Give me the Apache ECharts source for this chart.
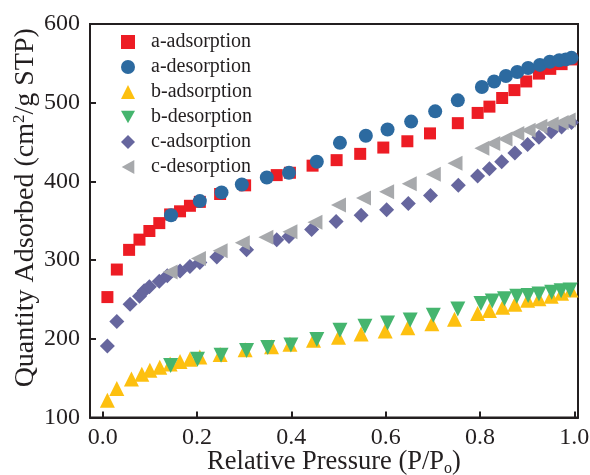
<!DOCTYPE html>
<html>
<head>
<meta charset="utf-8">
<script src="https://cdn.jsdelivr.net/npm/echarts@6/dist/echarts.min.js"></script>
<style>html,body{margin:0;padding:0;background:#fff;}#c{width:590px;height:475px;}</style>
</head>
<body>
<div id="c"></div>
<script>
const xTicks = [0, 0.2, 0.4, 0.6, 0.8, 1.0];

const aAdsX = [0.010,0.030,0.056,0.078,0.099,0.120,0.143,0.164,0.185,0.206,0.249,0.302,0.369,0.397,0.445,0.496,0.546,0.595,0.646,0.694,0.753,0.795,0.820,0.847,0.873,0.898,0.925,0.949,0.973,0.994];
const aAdsY = [253,288,313,326,337,347,358,362,369,374,384,395,408,411,420,427,435,443,451,461,474,487,495,506,516,527,537,543,549,555];

const aDesX = [0.145,0.206,0.252,0.295,0.348,0.395,0.454,0.503,0.558,0.604,0.654,0.705,0.753,0.804,0.830,0.855,0.879,0.902,0.927,0.948,0.968,0.982,0.994];
const aDesY = [357,375,386,396,405,411,425,449,458,466,476,489,503,520,527,534,539,544,548,552,554,555,557];

const bAdsX = [0.010,0.030,0.061,0.083,0.100,0.121,0.143,0.164,0.185,0.206,0.249,0.302,0.358,0.397,0.447,0.500,0.548,0.599,0.647,0.698,0.746,0.795,0.820,0.848,0.874,0.901,0.925,0.951,0.973,0.993];
const bAdsY = [122,137,149,155,160,164,168,171,174,177,180,186,190,193,198,202,206,210,214,219,225,232,236,240,244,249,251,254,258,262];

const bDesX = [0.144,0.201,0.251,0.305,0.350,0.399,0.454,0.503,0.556,0.604,0.652,0.701,0.753,0.802,0.826,0.852,0.878,0.902,0.925,0.952,0.972,0.991];
const bDesY = [166,174,179,185,189,192,199,211,216,220,224,230,238,245,248,251,254,255,257,259,261,262];

const cAdsX = [0.010,0.030,0.058,0.078,0.088,0.099,0.120,0.137,0.164,0.185,0.206,0.242,0.305,0.369,0.395,0.443,0.495,0.548,0.602,0.648,0.695,0.754,0.795,0.820,0.846,0.874,0.901,0.925,0.951,0.973,0.994];
const cAdsY = [191,222,244,254,261,266,273,280,286,292,297,304,313,326,330,339,349,357,364,372,382,395,407,416,425,436,447,456,463,469,475];

const cDesX = [0.143,0.203,0.249,0.296,0.346,0.397,0.450,0.500,0.553,0.602,0.650,0.701,0.747,0.804,0.827,0.853,0.878,0.902,0.927,0.951,0.972,0.987];
const cDesY = [285,302,312,322,329,336,348,370,379,387,397,409,423,442,448,454,461,465,470,473,475,478];

const seriesNames = ['a-adsorption','a-desorption','b-adsorption','b-desorption','c-adsorption','c-desorption'];

function pts(xs, ys){ return xs.map((x,i)=>[x, ys[i]]); }

const font = 'Liberation Serif';
const chart = echarts.init(document.getElementById('c'), null, {renderer:'canvas'});

const downTri = 'path://M0,0L10,0L5,9z';
const leftTri = 'path://M9,0L9,10L0,5z';

const defs = [
  {d: pts(aAdsX,aAdsY), sym:'rect', size:12, rot:0, color:'#ED1C24', icon:'rect'},
  {d: pts(aDesX,aDesY), sym:'circle', size:14, rot:0, color:'#2C6AA0', icon:'circle'},
  {d: pts(bAdsX,bAdsY), sym:'triangle', size:15, rot:0, color:'#FDC010', icon:'triangle'},
  {d: pts(bDesX,bDesY), sym:'triangle', size:15, rot:180, color:'#45B56E', icon:downTri},
  {d: pts(cAdsX,cAdsY), sym:'diamond', size:15, rot:0, color:'#66669E', icon:'diamond'},
  {d: pts(cDesX,cDesY), sym:'triangle', size:15, rot:90, color:'#A7A9AC', icon:leftTri}
];

chart.setOption({
  animation:false,
  backgroundColor:'#fff',
  grid:{left:90, right:12, top:24, bottom:57.5, show:true, borderColor:'#231F20', borderWidth:2, containLabel:false, outerBoundsMode:'none'},
  legend:{
    orient:'vertical', left:116, top:27, itemWidth:14, itemHeight:14, itemGap:5,
    textStyle:{fontFamily:font, fontSize:20, color:'#231F20', lineHeight:20, padding:[0,0,0,11]},
    data: seriesNames.map((n,i)=>({name:n, icon:defs[i].icon}))
  },
  xAxis:{
    type:'value', min:-0.0269, max:1.0078,
    splitLine:{show:false},
    axisLine:{show:true, onZero:false, lineStyle:{color:'#231F20', width:2}},
    axisTick:{show:true, inside:true, length:6, customValues:xTicks, lineStyle:{color:'#231F20', width:2}},
    axisLabel:{customValues:xTicks, formatter:v=>v.toFixed(1), fontFamily:font, fontSize:24, color:'#231F20', margin:8},
    name:'Relative Pressure (P/P{sub|o})', nameLocation:'middle', nameGap:31, nameMoveOverlap:false,
    nameTextStyle:{fontFamily:font, fontSize:26.5, color:'#231F20', rich:{sub:{fontFamily:font, fontSize:16, color:'#231F20', verticalAlign:'bottom', padding:[12,0,0,0]}}}
  },
  yAxis:{
    type:'value', min:100, max:600, interval:100,
    splitLine:{show:false},
    axisLine:{show:true, onZero:false, lineStyle:{color:'#231F20', width:2}},
    axisTick:{show:true, inside:true, length:6, lineStyle:{color:'#231F20', width:2}},
    axisLabel:{fontFamily:font, fontSize:24, color:'#231F20', margin:10},
    name:'Quantity Adsorbed (cm{sup|2}/g STP)', nameLocation:'middle', nameGap:50, nameMoveOverlap:false,
    nameTextStyle:{fontFamily:font, fontSize:28, color:'#231F20', padding:[0,0,0,26], rich:{sup:{fontFamily:font, fontSize:17, color:'#231F20', verticalAlign:'top', padding:[0,0,12,0]}}}
  },
  series: defs.map((s,i)=>({
    name: seriesNames[i], type:'scatter', data:s.d, symbol:s.sym, symbolSize:s.size, symbolRotate:s.rot,
    itemStyle:{color:s.color, opacity:1}
  }))
});
</script>
</body>
</html>
